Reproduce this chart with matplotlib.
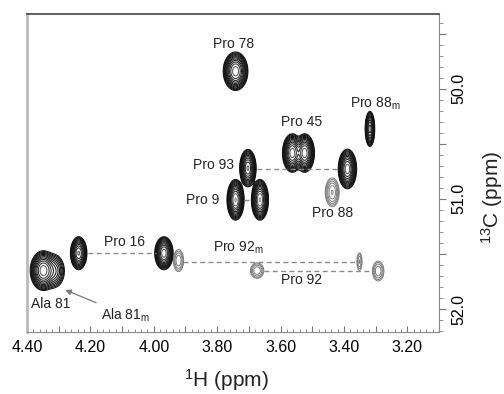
import numpy as np
import matplotlib
matplotlib.use("Agg")
import matplotlib.pyplot as plt
from matplotlib.ticker import MultipleLocator, FuncFormatter
from matplotlib.colors import LinearSegmentedColormap

plt.rcParams['font.family'] = ['Liberation Sans', 'DejaVu Sans']
plt.rcParams['mathtext.default'] = 'regular'

# ---- peak table (1H ppm, 13C ppm, half-widths of outer contour, relative intensity)
peak_names = ["Pro 78", "Pro 88m", "Pro 45a", "Pro 45b", "Pro 88'", "Pro 93",
              "Pro 9a", "Pro 9b", "Pro 16a", "Pro 16b", "Ala 81", "Ala 81m",
              "Pro 92m tail", "Pro 88", "Pro 92a", "Pro 92m", "Pro 92b"]
peak_h = [3.742, 3.318, 3.563, 3.524, 3.389, 3.703,
          3.742, 3.665, 4.237, 3.968, 4.349, 4.316,
          3.922, 3.437, 3.674, 3.351, 3.292]
peak_c = [49.84, 50.364, 50.583, 50.583, 50.728, 50.72,
          51.008, 51.008, 51.493, 51.493, 51.651, 51.655,
          51.56, 50.94, 51.651, 51.569, 51.655]
peak_hw_h = [0.039, 0.015, 0.031, 0.031, 0.029, 0.026,
             0.027, 0.027, 0.026, 0.029, 0.041, 0.034,
             0.016, 0.022, 0.021, 0.008, 0.018]
peak_hw_c = [0.175, 0.160, 0.175, 0.175, 0.180, 0.170,
             0.185, 0.185, 0.150, 0.150, 0.180, 0.150,
             0.100, 0.130, 0.070, 0.080, 0.090]
peak_amp = [60, 40, 60, 60, 60, 50,
            70, 70, 50, 60, 60, 12,
            4, 6, 4, 3, 4]
peak_weak = [False, False, False, False, False, False,
             False, False, False, False, False, False,
             True, True, True, True, True]

# ---- dashed connection lines (13C ppm, 1H start, 1H end)
line_c = [50.728, 51.008, 51.493, 51.569, 51.651]
line_h0 = [3.674, 3.716, 4.208, 3.907, 3.651]
line_h1 = [3.416, 3.689, 3.992, 3.360, 3.305]

# ---- labels
label_text = ["Pro 78", "Pro 88$_{m}$", "Pro 45", "Pro 93", "Pro 9", "Pro 88",
              "Pro 16", "Pro 92$_{m}$", "Pro 92", "Ala 81"]
label_h = [3.749, 3.382, 3.534, 3.813, 3.845, 3.435, 4.093, 3.814, 3.535, 4.326]
label_c = [49.59, 50.137, 50.303, 50.695, 51.008, 51.129, 51.393, 51.448, 51.736, 51.957]
label_ha = ["center", "left", "center", "center", "center", "center",
            "center", "left", "center", "center"]

x_ticks = [4.40, 4.20, 4.00, 3.80, 3.60, 3.40, 3.20]
y_ticks = [50.0, 51.0, 52.0]

# ---- build spectrum field
hh = np.linspace(4.40, 3.10, 900)
cc = np.linspace(49.32, 52.21, 900)
H, C = np.meshgrid(hh, cc)
lowest = 1.0
strong = np.zeros_like(H)
weak = np.zeros_like(H)
for x0, y0, wx, wy, a, w in zip(peak_h, peak_c, peak_hw_h, peak_hw_c, peak_amp, peak_weak):
    k = np.sqrt(2 * np.log(a / lowest))
    sx, sy = wx / k, wy / k
    g = a * np.exp(-0.5 * (((H - x0) / sx) ** 2 + ((C - y0) / sy) ** 2))
    if w:
        weak += g
    else:
        strong += g

fig = plt.figure(figsize=(5.04, 3.94), dpi=100)
ax = fig.add_axes([0.0536, 0.157, 0.8175, 0.8075])

levels = lowest * 1.42 ** np.arange(0, 14)
cmap = LinearSegmentedColormap.from_list("ct", ["#111111", "#2a2a2a", "#8a8a8a", "#b0b0b0"])
ax.contour(H, C, strong, levels=levels, cmap=cmap, linewidths=0.75)
ax.contour(H, C, weak, levels=levels[:6], colors="#7a7a7a", linewidths=0.7)

for c0, a0, a1 in zip(line_c, line_h0, line_h1):
    ax.plot([a0, a1], [c0, c0], color="#8a8a8a", lw=1.0, dashes=(3.5, 2.5))

for t, x, y, ha in zip(label_text, label_h, label_c, label_ha):
    ax.text(x, y, t, ha=ha, va="center", fontsize=10, color="#222222")

ax.annotate("Ala 81$_{m}$", xy=(4.279, 51.827), xytext=(4.165, 52.055),
            fontsize=10, color="#222222", ha="left", va="center",
            arrowprops=dict(arrowstyle="-|>", color="#777777", lw=0.9,
                            mutation_scale=8, shrinkA=2, shrinkB=0))

ax.set_xlim(4.40, 3.10)
ax.set_ylim(52.21, 49.32)

ax.xaxis.set_major_locator(MultipleLocator(0.1))
ax.xaxis.set_minor_locator(MultipleLocator(0.02))
ax.xaxis.set_major_formatter(FuncFormatter(
    lambda v, p: f"{v:.2f}" if min(abs(v - t) for t in x_ticks) < 1e-6 else ""))
ax.tick_params(axis="x", which="major", direction="in", length=4, width=0.8,
               color="#777777", labelsize=11.5, pad=6)
ax.tick_params(axis="x", which="minor", direction="in", length=2, width=0.6, color="#777777")

ax.yaxis.tick_right()
ax.yaxis.set_major_locator(MultipleLocator(0.5))
ax.yaxis.set_minor_locator(MultipleLocator(0.1))
ax.yaxis.set_major_formatter(FuncFormatter(
    lambda v, p: f"{v:.1f}" if min(abs(v - t) for t in y_ticks) < 1e-6 else ""))
ax.tick_params(axis="y", which="major", direction="out", length=5, width=0.8,
               color="#777777", labelsize=11.5, pad=4)
ax.tick_params(axis="y", which="minor", direction="out", length=3, width=0.6, color="#777777")
for lab in ax.get_yticklabels():
    lab.set_rotation(90)
    lab.set_va("center")

ax.spines["top"].set_color("#444444")
ax.spines["top"].set_linewidth(1.2)
ax.spines["left"].set_color("#bbbbbb")
ax.spines["left"].set_linewidth(2.0)
ax.spines["right"].set_color("#888888")
ax.spines["bottom"].set_color("#888888")

fig.text(0.450, 0.036, "$^{1}$H (ppm)", ha="center", va="center", fontsize=15, color="#222222")
fig.text(0.976, 0.50, "$^{13}$C (ppm)", ha="center", va="center", rotation=90,
         fontsize=15, color="#222222")

fig.savefig("out.png", dpi=100)
